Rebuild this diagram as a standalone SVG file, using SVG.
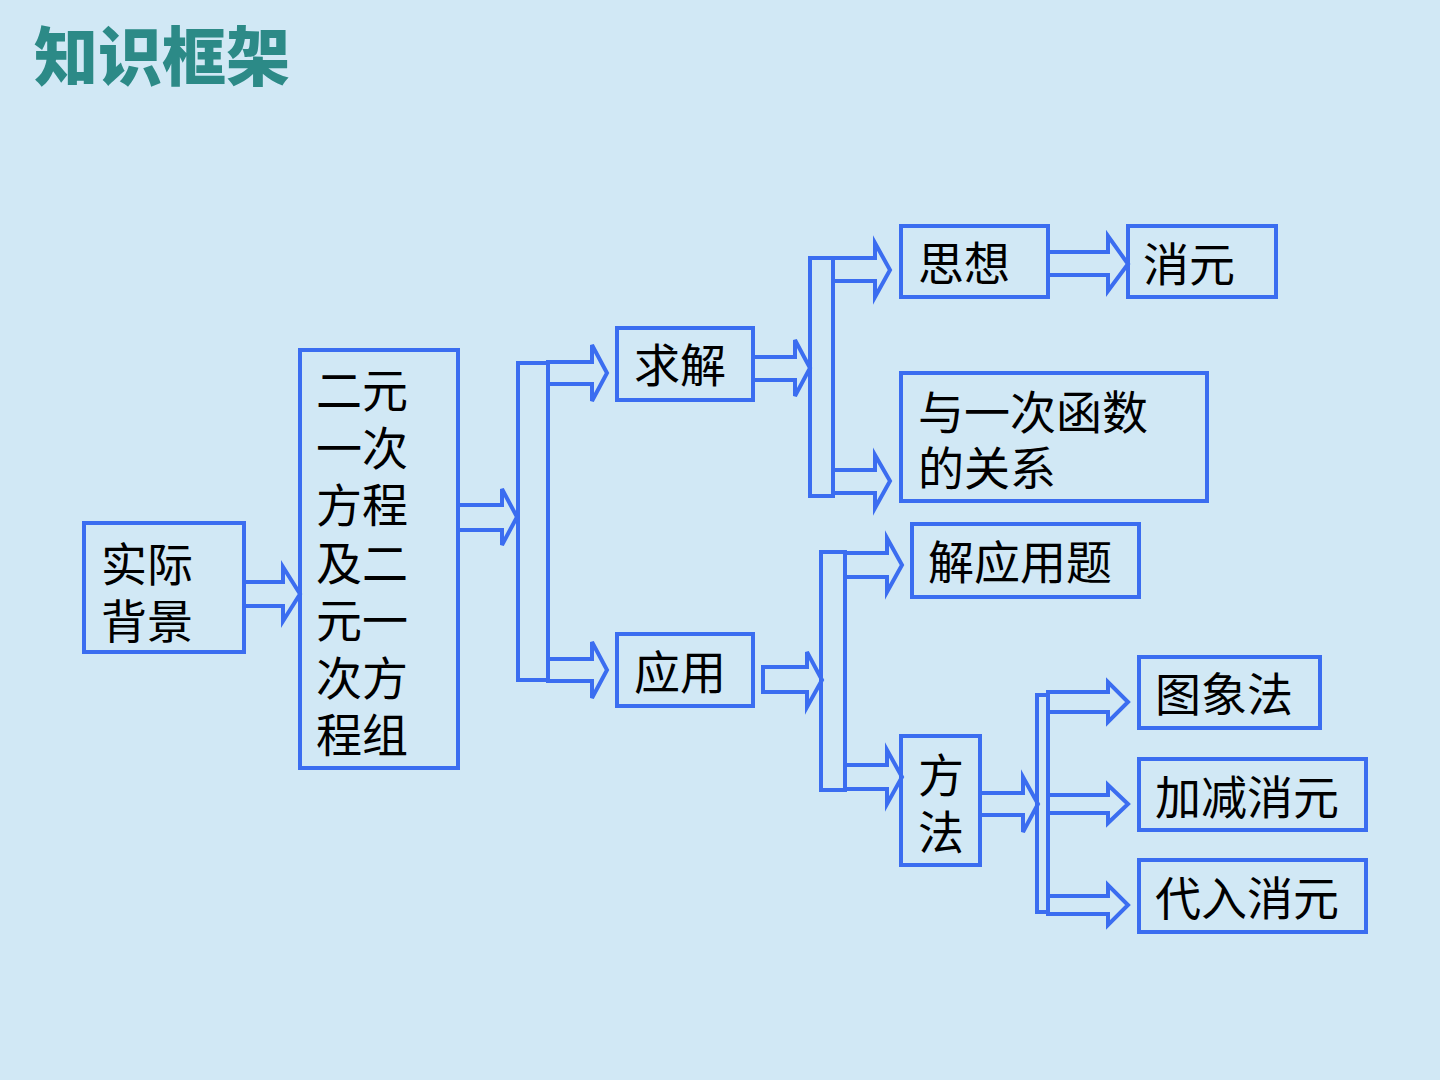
<svg xmlns="http://www.w3.org/2000/svg" width="1440" height="1080" viewBox="0 0 1440 1080">
<style>
.bg{fill:#d1e8f5}
.box{fill:none;stroke:#3b6df0;stroke-width:4}
.bar{fill:none;stroke:#3b6df0;stroke-width:4}
.arr{fill:none;stroke:#3b6df0;stroke-width:4;stroke-linejoin:miter}
.t{font-family:"Noto Sans CJK SC","Noto Sans",sans-serif;font-size:46px;fill:#000;dominant-baseline:central}
.title{font-family:"Noto Sans CJK SC","Noto Sans",sans-serif;font-size:64px;font-weight:900;fill:#2c8a87}
</style>
<rect class="bg" x="0" y="0" width="1440" height="1080"/>
<text class="title" x="34" y="80">知识框架</text>

<g id="connectors">
  <rect class="bar" x="518" y="363" width="30" height="317"/>
  <rect class="bar" x="810" y="258" width="23" height="238"/>
  <rect class="bar" x="821" y="552" width="24" height="238"/>
  <rect class="bar" x="1037" y="695" width="11" height="217"/>
  <polygon class="arr" points="244,582 283,582 283,567 300,594 283,621 283,606 244,606"/>
  <polygon class="arr" points="458,505 502,505 502,489 517,517 502,545 502,530 458,530"/>
  <polygon class="arr" points="548,362 592,362 592,345 607,373 592,401 592,384 548,384"/>
  <polygon class="arr" points="548,659 592,659 592,642 607,670 592,698 592,681 548,681"/>
  <polygon class="arr" points="753,357 795,357 795,340 810,368 795,396 795,380 753,380"/>
  <polygon class="arr" points="833,258 875,258 875,243 890,270 875,297 875,281 833,281"/>
  <polygon class="arr" points="833,470 875,470 875,455 890,481 875,508 875,493 833,493"/>
  <polygon class="arr" points="1048,252 1108,252 1108,236 1128,264 1108,291 1108,275 1048,275"/>
  <polygon class="arr" points="763,667 807,667 807,652 822,680 807,707 807,692 763,692"/>
  <polygon class="arr" points="845,553 887,553 887,538 902,565 887,592 887,577 845,577"/>
  <polygon class="arr" points="845,765 887,765 887,750 902,777 887,804 887,789 845,789"/>
  <polygon class="arr" points="980,793 1023,793 1023,777 1038,804 1023,832 1023,815 980,815"/>
  <polygon class="arr" points="1048,692 1108,692 1108,682 1128,702 1108,722 1108,712 1048,712"/>
  <polygon class="arr" points="1048,795 1108,795 1108,785 1128,804 1108,823 1108,813 1048,813"/>
  <polygon class="arr" points="1048,896 1108,896 1108,885 1128,905 1108,925 1108,914 1048,914"/>
</g>

<g id="n-shiji">
  <rect class="box" x="84" y="523" width="160" height="129"/>
  <text class="t" x="101" y="561">实际</text>
  <text class="t" x="101" y="618">背景</text>
</g>
<g id="n-fangcheng">
  <rect class="box" x="300" y="350" width="158" height="418"/>
  <text class="t" x="316" y="387">二元</text>
  <text class="t" x="316" y="445">一次</text>
  <text class="t" x="316" y="502">方程</text>
  <text class="t" x="316" y="560">及二</text>
  <text class="t" x="316" y="617">元一</text>
  <text class="t" x="316" y="675">次方</text>
  <text class="t" x="316" y="732">程组</text>
</g>
<g id="n-qiujie">
  <rect class="box" x="617" y="328" width="136" height="72"/>
  <text class="t" x="634" y="362">求解</text>
</g>
<g id="n-yingyong">
  <rect class="box" x="617" y="634" width="136" height="72"/>
  <text class="t" x="634" y="669">应用</text>
</g>
<g id="n-sixiang">
  <rect class="box" x="901" y="226" width="147" height="71"/>
  <text class="t" x="918" y="260">思想</text>
</g>
<g id="n-xiaoyuan">
  <rect class="box" x="1128" y="226" width="148" height="71"/>
  <text class="t" x="1143" y="261">消元</text>
</g>
<g id="n-hanshu">
  <rect class="box" x="901" y="373" width="306" height="128"/>
  <text class="t" x="918" y="409">与一次函数</text>
  <text class="t" x="918" y="465">的关系</text>
</g>
<g id="n-jieyingyongti">
  <rect class="box" x="912" y="524" width="227" height="73"/>
  <text class="t" x="928" y="559">解应用题</text>
</g>
<g id="n-fangfa">
  <rect class="box" x="901" y="736" width="79" height="129"/>
  <text class="t" x="918" y="772">方</text>
  <text class="t" x="918" y="829">法</text>
</g>
<g id="n-tuxiang">
  <rect class="box" x="1139" y="657" width="181" height="71"/>
  <text class="t" x="1155" y="691">图象法</text>
</g>
<g id="n-jiajian">
  <rect class="box" x="1139" y="759" width="227" height="71"/>
  <text class="t" x="1155" y="794">加减消元</text>
</g>
<g id="n-dairu">
  <rect class="box" x="1139" y="860" width="227" height="72"/>
  <text class="t" x="1155" y="895">代入消元</text>
</g>
</svg>
